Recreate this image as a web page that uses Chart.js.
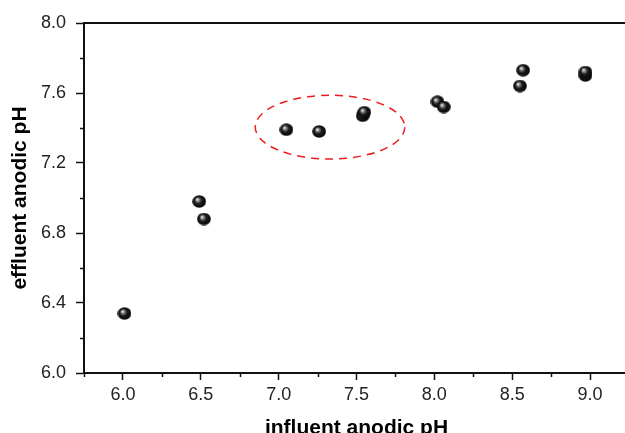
<!DOCTYPE html>
<html>
<head>
<meta charset="utf-8">
<script src="https://cdn.jsdelivr.net/npm/chart.js@4.4.1/dist/chart.umd.min.js"></script>
<style>
    html, body { margin: 0; padding: 0; overflow: hidden; background: #fff; }
</style>
</head>
<body>
<canvas id="grafico_ph" width="637" height="433"></canvas>
<script>
// valores
const influentPH = [6.01, 6.49, 6.52, 7.05, 7.26, 7.54, 7.55, 8.02, 8.06, 8.55, 8.57, 8.97, 8.97];
const effluentPH = [6.34, 6.98, 6.88, 7.39, 7.38, 7.47, 7.49, 7.55, 7.52, 7.64, 7.73, 7.70, 7.72];
const xMajorTicks = [6.0, 6.5, 7.0, 7.5, 8.0, 8.5, 9.0];
const yMajorTicks = [6.0, 6.4, 6.8, 7.2, 7.6, 8.0];
const xTitle = 'influent anodic pH';
const yTitle = 'effluent anodic pH';

// elipse tracejada (centro e raios em unidades de pH)
const ellipseCenter = [7.33, 7.405];
const ellipseRadius = [0.48, 0.182];

const isMajor = (list, v) => list.some(m => Math.abs(m - v) < 1e-6);

// esfera preta sombreada
function makeSphere() {
    const c = document.createElement('canvas');
    c.width = 14; c.height = 13;
    const g = c.getContext('2d');
    const grad = g.createRadialGradient(5, 4.5, 0.3, 7, 6.5, 7.5);
    grad.addColorStop(0, '#f2f2f2');
    grad.addColorStop(0.18, '#8c8c8c');
    grad.addColorStop(0.45, '#1c1c1c');
    grad.addColorStop(1, '#000');
    g.fillStyle = grad;
    g.beginPath();
    g.ellipse(7, 6.5, 6.8, 6.2, 0, 0, Math.PI * 2);
    g.fill();
    return c;
}

const extras = {
    id: 'extras',
    afterDraw(chart) {
        const { ctx, chartArea, scales: { x, y } } = chart;
        ctx.save();
        ctx.strokeStyle = '#111';
        ctx.lineWidth = 1.5;
        // minor ticks
        ctx.beginPath();
        x.ticks.forEach(t => {
            if (isMajor(xMajorTicks, t.value)) return;
            const px = Math.round(x.getPixelForValue(t.value)) + 0.5;
            ctx.moveTo(px, chartArea.bottom);
            ctx.lineTo(px, chartArea.bottom + 4);
        });
        y.ticks.forEach(t => {
            if (isMajor(yMajorTicks, t.value)) return;
            const py = Math.round(y.getPixelForValue(t.value)) + 0.5;
            ctx.moveTo(chartArea.left, py);
            ctx.lineTo(chartArea.left - 4, py);
        });
        ctx.stroke();
        // linha superior
        ctx.lineWidth = 2;
        ctx.beginPath();
        ctx.moveTo(chartArea.left, chartArea.top);
        ctx.lineTo(chart.width, chartArea.top);
        ctx.stroke();
        ctx.restore();
    },
    beforeDatasetsDraw(chart) {
        const { ctx, scales: { x, y } } = chart;
        const cx = x.getPixelForValue(ellipseCenter[0]);
        const cy = y.getPixelForValue(ellipseCenter[1]);
        const rx = x.getPixelForValue(ellipseCenter[0] + ellipseRadius[0]) - cx;
        const ry = cy - y.getPixelForValue(ellipseCenter[1] + ellipseRadius[1]);
        ctx.save();
        ctx.strokeStyle = '#ee1c1c';
        ctx.lineWidth = 1.5;
        ctx.setLineDash([8, 6]);
        ctx.beginPath();
        ctx.ellipse(cx, cy, rx, ry, 0, 0, Math.PI * 2);
        ctx.stroke();
        ctx.restore();
    }
};

const ctxPH = document.getElementById('grafico_ph').getContext('2d');
new Chart(ctxPH, {
    type: 'scatter',
    data: {
        datasets: [{
            data: influentPH.map((v, i) => ({ x: v, y: effluentPH[i] })),
            pointStyle: makeSphere(),
            pointRadius: 7,
            pointHoverRadius: 7
        }]
    },
    options: {
        responsive: false,
        animation: false,
        layout: { padding: { top: 23, right: 3, left: 0, bottom: 0 } },
        plugins: { legend: { display: false }, tooltip: { enabled: false } },
        scales: {
            x: {
                type: 'linear',
                min: 5.75,
                max: 9.25,
                afterFit: s => { s.height = 60; },
                ticks: {
                    stepSize: 0.25,
                    autoSkip: false,
                    maxRotation: 0,
                    padding: 4,
                    color: '#222',
                    font: { family: 'Liberation Sans, Arial', size: 18 },
                    callback: v => isMajor(xMajorTicks, v) ? v.toFixed(1) : ''
                },
                grid: {
                    drawOnChartArea: false,
                    tickLength: 7,
                    tickWidth: 1.5,
                    tickColor: c => (c.tick && isMajor(xMajorTicks, c.tick.value)) ? '#111' : 'rgba(0,0,0,0)'
                },
                border: { color: '#111', width: 2 },
                title: {
                    display: true,
                    text: xTitle,
                    color: '#000',
                    padding: { top: 0, bottom: -6 },
                    font: { family: 'Liberation Sans, Arial', size: 21, weight: 'bold', lineHeight: 1 }
                }
            },
            y: {
                type: 'linear',
                min: 6.0,
                max: 8.0,
                afterFit: s => { s.width = 84; },
                ticks: {
                    stepSize: 0.2,
                    autoSkip: false,
                    padding: 10,
                    color: '#222',
                    font: { family: 'Liberation Sans, Arial', size: 18 },
                    callback: v => isMajor(yMajorTicks, v) ? v.toFixed(1) : ''
                },
                grid: {
                    drawOnChartArea: false,
                    tickLength: 8,
                    tickWidth: 1.5,
                    tickColor: c => (c.tick && isMajor(yMajorTicks, c.tick.value)) ? '#111' : 'rgba(0,0,0,0)'
                },
                border: { color: '#111', width: 2 },
                title: {
                    display: true,
                    text: yTitle,
                    color: '#000',
                    padding: { top: 10, bottom: 0 },
                    font: { family: 'Liberation Sans, Arial', size: 21, weight: 'bold', lineHeight: 1 }
                }
            }
        }
    },
    plugins: [extras]
});
</script>
</body>
</html>
